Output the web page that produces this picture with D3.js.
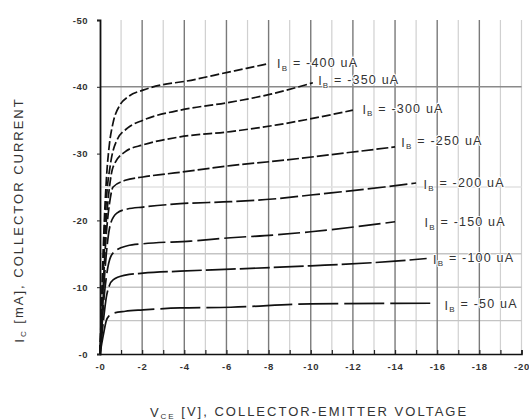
<!DOCTYPE html>
<html>
<head>
<meta charset="UTF-8">
<script src="https://d3js.org/d3.v7.min.js"></script>
<style>
  body { margin: 0; background: #fff; font-family: "Liberation Sans", Arial, sans-serif; }
  .tick text { font-family: "Liberation Sans", Arial, sans-serif; }
</style>
</head>
<body>
<div id="chart"></div>
<script>
// base current of each curve (uA)
const ibValues = [-400, -350, -300, -250, -200, -150, -100, -50];

// [VCE (V, magnitude), IC (mA, magnitude)]
const ib400 = [[0,0],[0.08,8],[0.18,18],[0.3,26],[0.45,31.5],[0.62,34.6],[0.95,37.3],[1.33,38.5],[2.04,39.5],[2.94,40.3],[4.0,40.8],[6.1,42.2],[7.9,43.4]];
const ib350 = [[0,0],[0.08,7],[0.18,16],[0.3,23],[0.5,28.5],[0.8,32.0],[1.3,33.8],[2.04,35.0],[3.8,36.5],[6.2,37.7],[8.1,38.9],[10.1,40.6]];
const ib300 = [[0,0],[0.08,6],[0.18,14],[0.3,20],[0.45,25],[0.62,28.0],[1.2,30.3],[2.04,31.3],[3.8,32.5],[6.2,33.3],[8.4,34.3],[12,36.5]];
const ib250 = [[0,0],[0.08,5],[0.18,12],[0.3,18],[0.45,22.5],[0.62,25.0],[1.2,26.0],[2.04,26.5],[3.8,27.2],[6.2,28.2],[8.4,28.9],[11.9,30.2],[14,31.0]];
const ib200 = [[0,0],[0.08,4.5],[0.18,10],[0.3,15],[0.5,19.5],[0.8,21.1],[1.3,21.7],[2.04,22.0],[3.8,22.5],[6.2,22.8],[8.2,23.2],[10,23.8],[13.5,25.0],[15,25.6]];
const ib150 = [[0,0],[0.08,3.5],[0.18,8],[0.3,11.5],[0.5,14.5],[0.8,15.6],[1.3,16.2],[2.04,16.5],[4.3,16.9],[6.2,17.4],[8.2,17.8],[10,18.3],[14,19.8]];
const ib100 = [[0,0],[0.08,2.5],[0.18,5.5],[0.3,8.5],[0.45,10.3],[0.62,11.1],[1.2,11.8],[2.04,12.1],[3.8,12.4],[6.2,12.7],[10,13.2],[14,13.9],[15.5,14.3]];
const ib50  = [[0,0],[0.08,1.5],[0.18,3.2],[0.3,5.0],[0.45,5.8],[0.62,6.1],[1.2,6.4],[2.04,6.6],[3.8,6.9],[6.2,7.0],[10,7.5],[15.9,7.6]];
const curves = [ib400, ib350, ib300, ib250, ib200, ib150, ib100, ib50];

// where each curve label sits, in data units [VCE, IC]
const labelAt = [[8.4,43.4],[10.35,40.9],[12.45,36.6],[14.3,31.7],[15.35,25.4],[15.4,19.6],[15.8,14.2],[16.35,7.3]];

const xTicks = [0, 2, 4, 6, 8, 10, 12, 14, 16, 18, 20];
const yTicks = [0, 10, 20, 30, 40, 50];
const xMinor = d3.range(0, 21, 1);
const hGrid = [5, 10, 15, 25];
const hGridMajor = [40];

const W = 529, H = 420;
const svg = d3.select("#chart").append("svg").attr("width", W).attr("height", H);

const x = d3.scaleLinear().domain([0, 20]).range([100, 521.5]);
const y = d3.scaleLinear().domain([0, 50]).range([354, 20]);

// grid
svg.append("g").selectAll("line").data(xMinor.filter(d => d % 2 === 1 || d === 20)).join("line")
  .attr("x1", d => x(d)).attr("x2", d => x(d)).attr("y1", y(50)).attr("y2", y(0))
  .attr("stroke", "#d0d0d0").attr("stroke-width", 1.2);
svg.append("g").selectAll("line").data(hGrid).join("line")
  .attr("x1", x(0)).attr("x2", x(20)).attr("y1", d => y(d)).attr("y2", d => y(d))
  .attr("stroke", d => d === 25 ? "#e2e2e2" : "#c4c4c4").attr("stroke-width", 1.4);
svg.append("g").selectAll("line").data(xTicks.filter(d => d > 0 && d < 20)).join("line")
  .attr("x1", d => x(d)).attr("x2", d => x(d)).attr("y1", y(50)).attr("y2", y(0))
  .attr("stroke", "#7a7a7a").attr("stroke-width", 1.4);
svg.append("g").selectAll("line").data(hGridMajor).join("line")
  .attr("x1", x(0)).attr("x2", x(20)).attr("y1", d => y(d)).attr("y2", d => y(d))
  .attr("stroke", "#8a8a8a").attr("stroke-width", 1.6);

// axes
const xAxis = svg.append("g").attr("transform", `translate(0,${y(0)})`)
  .call(d3.axisBottom(x).tickValues(xMinor).tickSize(-4).tickFormat(""));
xAxis.select(".domain").attr("stroke", "#111").attr("stroke-width", 1.6);
xAxis.selectAll(".tick line").attr("stroke", "#222").attr("stroke-width", 1.2);

const xLab = svg.append("g").attr("transform", `translate(0,${y(0)})`)
  .call(d3.axisBottom(x).tickValues(xTicks).tickSize(0).tickPadding(9).tickFormat(d => "-" + d));
xLab.select(".domain").remove();
xLab.selectAll("text").attr("font-size", 9.5).attr("font-weight", "bold").attr("fill", "#333")
  .attr("letter-spacing", 0.8);

const yAxis = svg.append("g").attr("transform", `translate(${x(0)},0)`)
  .call(d3.axisLeft(y).tickValues(yTicks).tickSize(3).tickPadding(9).tickFormat(d => "-" + d));
yAxis.select(".domain").attr("stroke", "#111").attr("stroke-width", 1.8);
yAxis.selectAll(".tick line").attr("stroke", "#222");
yAxis.selectAll("text").attr("font-size", 9.5).attr("font-weight", "bold").attr("fill", "#333")
  .attr("letter-spacing", 0.5);

// curves
const line = d3.line().x(d => x(d[0])).y(d => y(d[1])).curve(d3.curveMonotoneX);
const dashes = ["9,3", "9,3", "9,3", "12,3", "18,4", "22,5", "30,4", "40,6"];
svg.append("g").selectAll("path").data(curves).join("path")
  .attr("d", line)
  .attr("fill", "none")
  .attr("stroke", "#111")
  .attr("stroke-width", 1.7)
  .attr("stroke-dasharray", (d, i) => dashes[i]);

// curve labels
const lab = svg.append("g").selectAll("text").data(ibValues).join("text")
  .attr("x", (d, i) => x(labelAt[i][0]))
  .attr("y", (d, i) => y(labelAt[i][1]))
  .attr("dy", "0.35em")
  .attr("font-size", 12.5)
  .attr("letter-spacing", 1.2)
  .attr("fill", "#333")
  .attr("stroke", "#fff").attr("stroke-width", 2).attr("paint-order", "stroke");
lab.append("tspan").text("I");
lab.append("tspan").attr("font-size", 8).attr("dy", "0.3em").text("B");
lab.append("tspan").attr("dy", "-0.3em").text(d => ` = ${d} uA`);

// axis titles
const xt = svg.append("text").attr("x", 309).attr("y", 417).attr("text-anchor", "middle")
  .attr("font-size", 13).attr("letter-spacing", 2).attr("fill", "#333");
xt.append("tspan").text("V");
xt.append("tspan").attr("font-size", 8).attr("dy", "0.3em").text("CE");
xt.append("tspan").attr("dy", "-0.3em").text(" [V], COLLECTOR-EMITTER VOLTAGE");

const yt = svg.append("text").attr("transform", "translate(24,220) rotate(-90)").attr("text-anchor", "middle")
  .attr("font-size", 13).attr("letter-spacing", 2).attr("fill", "#333");
yt.append("tspan").text("I");
yt.append("tspan").attr("font-size", 8).attr("dy", "0.3em").text("C");
yt.append("tspan").attr("dy", "-0.3em").text(" [mA], COLLECTOR CURRENT");
</script>
</body>
</html>
